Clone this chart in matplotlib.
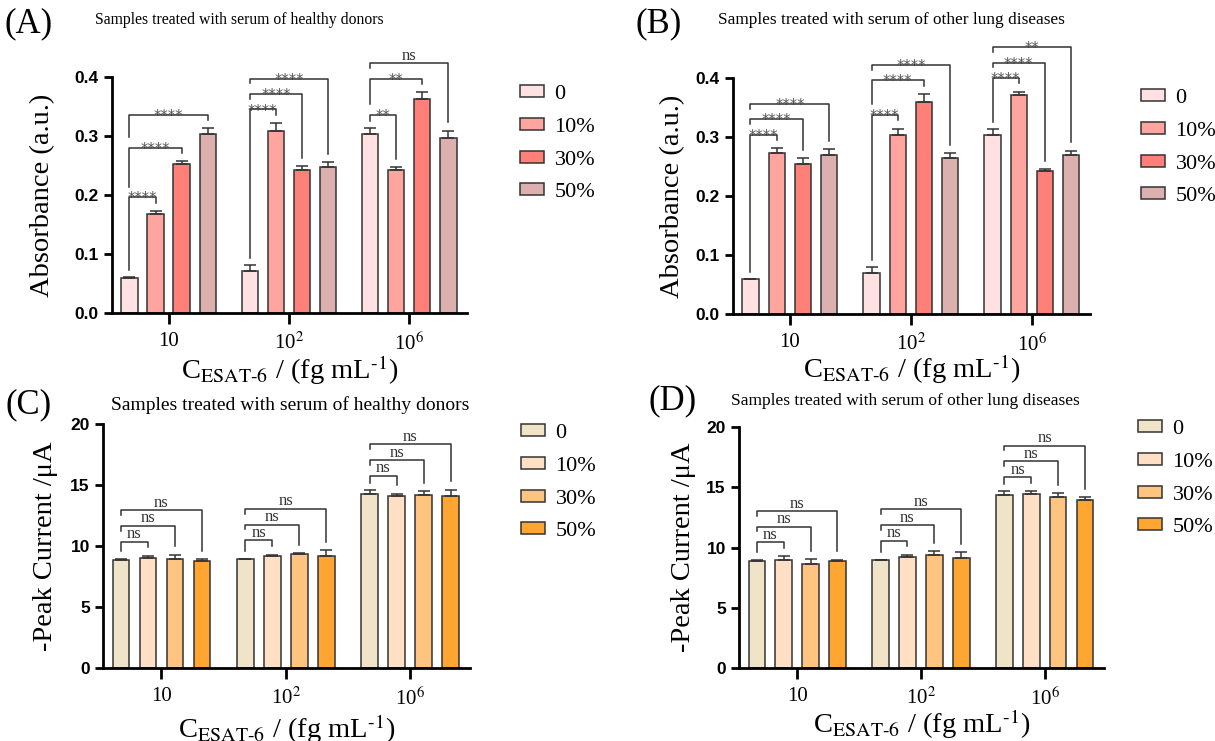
import numpy as np
import matplotlib
matplotlib.use('Agg')
import matplotlib.pyplot as plt
import matplotlib.patches as mpatches

plt.rcParams['font.family'] = ['Liberation Serif', 'DejaVu Serif']
plt.rcParams['mathtext.fontset'] = 'stix'

groups = ['10', '10$^2$', '10$^6$']
levels = ['0', '10%', '30%', '50%']

# rows = concentration groups, columns = serum levels
abs_healthy = [[0.059, 0.168, 0.253, 0.304],
               [0.071, 0.309, 0.242, 0.248],
               [0.303, 0.243, 0.362, 0.297]]
abs_healthy_err = [[0.002, 0.005, 0.004, 0.009],
                   [0.010, 0.013, 0.007, 0.008],
                   [0.010, 0.004, 0.012, 0.012]]
abs_lung = [[0.059, 0.273, 0.254, 0.270],
            [0.070, 0.304, 0.359, 0.264],
            [0.303, 0.371, 0.242, 0.269]]
abs_lung_err = [[0.001, 0.008, 0.010, 0.010],
                [0.010, 0.010, 0.014, 0.009],
                [0.011, 0.006, 0.004, 0.008]]
cur_healthy = [[8.88, 8.99, 8.96, 8.80],
               [8.90, 9.20, 9.37, 9.20],
               [14.30, 14.13, 14.20, 14.13]]
cur_healthy_err = [[0.08, 0.21, 0.33, 0.11],
                   [0.05, 0.10, 0.03, 0.44],
                   [0.30, 0.13, 0.30, 0.47]]
cur_lung = [[8.90, 8.93, 8.60, 8.88],
            [8.93, 9.18, 9.40, 9.13],
            [14.33, 14.41, 14.17, 13.94]]
cur_lung_err = [[0.09, 0.34, 0.45, 0.11],
                [0.06, 0.22, 0.28, 0.47],
                [0.33, 0.28, 0.35, 0.25]]

# significance vs. the "0" bar: 0-10%, 0-30%, 0-50%
sig_a = [['****', '****', '****'], ['****', '****', '****'], ['**', '**', 'ns']]
sig_b = [['****', '****', '****'], ['****', '****', '****'], ['****', '****', '**']]
sig_c = [['ns', 'ns', 'ns']] * 3
sig_d = [['ns', 'ns', 'ns']] * 3

pink = ['#FFE0E3', '#FFA5A0', '#FF8078', '#DCB0AE']
orange = ['#F0E4C8', '#FFE0C4', '#FFC480', '#FFA532']

W, H = 1215, 741
fig = plt.figure(figsize=(W / 100, H / 100), dpi=100)

XLABEL = r'C$_{\mathrm{ESAT}\text{-}\mathrm{6}}$ / (fg mL$^{\text{-}\mathrm{1}}$)'


def panel(box, vals, errs, sig, colors, ymax, yticks, fmt, ylabel, ylab_x, xlab_top, leg):
    l, r, t, b = box
    ax = fig.add_axes([l / W, 1 - b / H, (r - l) / W, (b - t) / H])
    vals = np.array(vals)
    errs = np.array(errs)
    pitch, width = 0.217, 0.135
    x = np.arange(len(groups))
    for k in range(len(levels)):
        xk = x + (k - 1.5) * pitch
        ax.bar(xk, vals[:, k], width, color=colors[k], edgecolor='#333333',
               linewidth=1.1, zorder=2)
        ax.errorbar(xk, vals[:, k], yerr=[np.zeros(len(x)), errs[:, k]], fmt='none',
                    ecolor='#333333', elinewidth=1.1, capsize=4, capthick=1.1, zorder=3)
    tops = vals + errs
    for g in range(len(groups)):
        prev = None
        for j in range(1, 4):
            x0 = g + (0 - 1.5) * pitch
            x1 = g + (j - 1.5) * pitch
            y = tops[g, :j + 1].max() + 0.058 * ymax
            if prev is not None:
                y = max(y, prev + 0.065 * ymax)
            lb = prev + 0.045 * ymax if prev is not None else tops[g, 0] + 0.03 * ymax
            rb = tops[g, j] + 0.035 * ymax
            ax.plot([x0, x0, x1, x1], [lb, y, y, rb], color='#333333', lw=1.1,
                    clip_on=False, zorder=4)
            lab = sig[g][j - 1]
            if lab == 'ns':
                ax.annotate('ns', ((x0 + x1) / 2, y), xytext=(0, -0.5),
                            textcoords='offset points', ha='center', va='bottom',
                            fontsize=12, color='#333333', annotation_clip=False)
            else:
                ax.annotate(lab, ((x0 + x1) / 2, y), xytext=(0, -4.5),
                            textcoords='offset points', ha='center', va='baseline',
                            fontsize=10.5, color='#555555', family='DejaVu Sans',
                            annotation_clip=False)
            prev = y
    ax.set_xlim(-0.47, 2.48)
    ax.set_ylim(0, ymax)
    ax.set_yticks(yticks)
    ax.set_yticklabels([fmt.format(v) for v in yticks], fontsize=12.5,
                       fontweight='bold', family='Liberation Sans')
    ax.set_xticks(x)
    ax.set_xticklabels(groups, fontsize=15)
    for s in ['top', 'right']:
        ax.spines[s].set_visible(False)
    for s in ['left', 'bottom']:
        ax.spines[s].set_linewidth(2)
    ax.tick_params(axis='y', length=6, width=2, direction='out')
    ax.tick_params(axis='x', length=8, width=2, direction='out', pad=6)
    ax.set_ylabel(ylabel, fontsize=20.5)
    ax.yaxis.set_label_coords((ylab_x + 13 - l) / (r - l), 0.5)
    ax.set_xlabel(XLABEL, fontsize=20.5)
    ax.xaxis.set_label_coords(0.5, -(xlab_top - b) / (b - t))
    handles = [mpatches.Patch(facecolor=c, edgecolor='#333333', linewidth=1.1) for c in colors]
    fig.legend(handles, levels, loc='upper left', bbox_to_anchor=(leg[0] / W, 1 - leg[1] / H),
               frameon=False, fontsize=16, handlelength=1.1, handleheight=0.45,
               labelspacing=0.62, handletextpad=0.45, borderpad=0, borderaxespad=0)
    return ax


panel((112, 467, 77, 313), abs_healthy, abs_healthy_err, sig_a, pink, 0.4,
      [0, 0.1, 0.2, 0.3, 0.4], '{:.1f}', 'Absorbance (a.u.)', 42, 353, (520, 85))
panel((733, 1090, 78, 314), abs_lung, abs_lung_err, sig_b, pink, 0.4,
      [0, 0.1, 0.2, 0.3, 0.4], '{:.1f}', 'Absorbance (a.u.)', 672, 352, (1141, 89))
panel((103, 470, 424, 668), cur_healthy, cur_healthy_err, sig_c, orange, 20,
      [0, 5, 10, 15, 20], '{:d}', '-Peak Current /μA', 45, 712, (521, 424))
panel((739, 1104, 427, 668), cur_lung, cur_lung_err, sig_d, orange, 20,
      [0, 5, 10, 15, 20], '{:d}', '-Peak Current /μA', 683, 707, (1138, 420))

fig.text(239 / W, 1 - 20 / H, 'Samples treated with serum of healthy donors', ha='center',
         va='center', fontsize=11.3)
fig.text(891 / W, 1 - 20 / H, 'Samples treated with serum of other lung diseases',
         ha='center', va='center', fontsize=12.4)
fig.text(290 / W, 1 - 405 / H, 'Samples treated with serum of healthy donors', ha='center',
         va='center', fontsize=14)
fig.text(905 / W, 1 - 401 / H, 'Samples treated with serum of other lung diseases',
         ha='center', va='center', fontsize=12.5)
for lab, xp, yp in [('(A)', 29, 24), ('(B)', 659, 24), ('(C)', 29, 405), ('(D)', 673, 401)]:
    fig.text(xp / W, 1 - yp / H, lab, ha='center', va='center', fontsize=25)

fig.savefig('out.png', dpi=100)
